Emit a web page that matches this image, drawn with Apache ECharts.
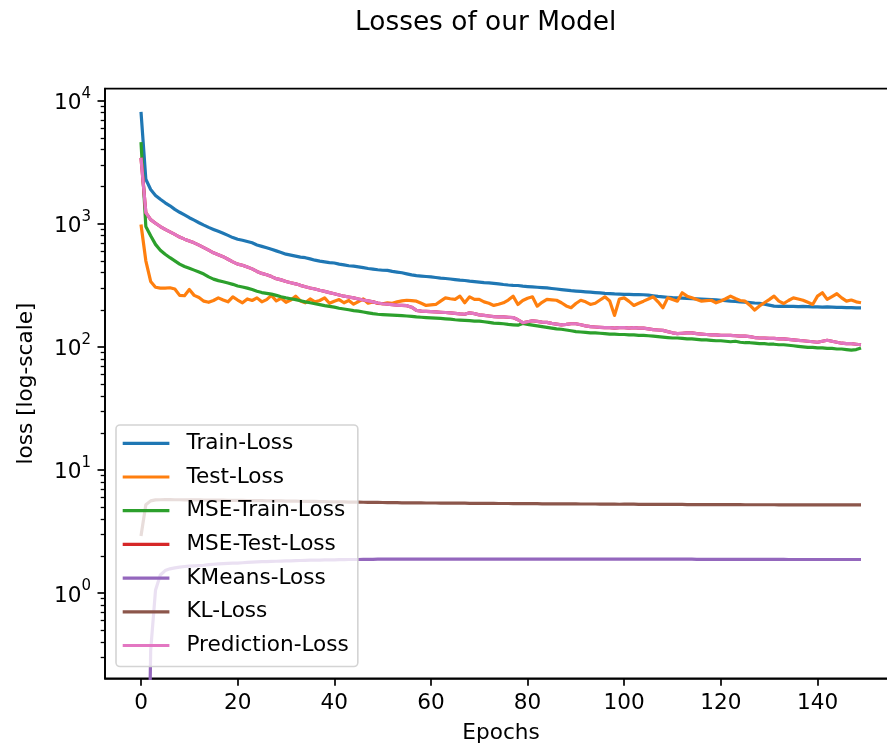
<!DOCTYPE html>
<html>
<head>
<meta charset="utf-8">
<script src="https://cdn.jsdelivr.net/npm/echarts@6/dist/echarts.min.js"></script>
<style>
html,body{margin:0;padding:0;background:#fff;}
#chart{width:887px;height:751px;}
</style>
</head>
<body>
<div id="chart"></div>
<script>
// ---------------- data ----------------
const epochs = Array.from({length: 150}, (_, i) => i);

const trainLoss = [
  8100, 2300, 1900, 1700, 1580, 1480, 1400, 1310, 1240, 1180,
  1120, 1070, 1020, 975, 935, 900, 868, 838, 805, 772,
  748, 735, 718, 700, 672, 655, 638, 620, 602, 585,
  566, 556, 546, 536, 530, 518, 506, 497, 490, 484,
  480, 470, 463, 456, 452, 447, 440, 433, 428, 423,
  419, 418, 410, 405, 400, 392, 384, 379, 376, 373,
  370, 366, 362, 359, 356, 352, 348, 346, 342, 339,
  336, 333, 331, 328, 325, 321, 318, 316, 315, 311,
  309, 307, 305, 303, 301, 298, 295, 292, 289, 286,
  284, 282, 280, 278, 276, 274, 272, 271, 269, 268,
  267, 267, 266, 266, 265, 263, 260, 257, 255, 253,
  251, 250, 249, 248, 246, 245, 244, 243, 242, 241,
  239, 237, 235, 234, 232, 231, 229, 227, 226, 222,
  218, 214, 213, 214, 213, 213, 212, 213, 212, 211,
  211, 210, 211, 210, 209, 209, 208, 208, 207, 207
];

const testLoss = [
  988, 500, 340, 305, 300, 300, 302, 295, 262, 260,
  292, 262, 252, 235, 230, 238, 250, 240, 232, 255,
  240, 228, 245, 238, 250, 232, 242, 262, 236, 248,
  230, 240, 258, 236, 228, 245, 232, 238, 250, 226,
  235, 242, 228, 238, 222, 233, 245, 226, 232, 225,
  224, 228, 226, 232, 236, 239, 237, 235, 226, 217,
  219, 221, 235, 250, 246, 243, 258, 228, 255, 243,
  243, 232, 226, 217, 222, 228, 240, 258, 221, 238,
  248, 255, 214, 230, 243, 241, 239, 228, 215, 208,
  225, 239, 232, 221, 226, 240, 255, 236, 180, 245,
  250, 234, 217, 226, 235, 245, 255, 232, 208, 250,
  242, 235, 275, 258, 250, 242, 235, 237, 239, 228,
  236, 246, 258, 247, 238, 235, 218, 199, 215, 228,
  242, 258, 235, 225, 238, 250, 245, 239, 230, 221,
  258, 275, 243, 256, 270, 250, 235, 240, 232, 228
];

const mseTrainLoss = [
  4600, 950, 800, 680, 610, 565, 530, 500, 470, 450,
  435, 420, 405, 390, 370, 355, 345, 338, 330, 322,
  312, 306, 300, 292, 283, 276, 272, 268, 262, 255,
  250, 246, 242, 237, 232, 228, 224, 220, 216, 213,
  210, 206, 203, 200, 197, 195, 192, 189, 186, 184,
  183, 182, 181, 180, 179, 178, 177, 175, 174, 173,
  172, 171, 170, 169, 168, 166, 165, 164, 163, 162,
  162, 160, 158, 156, 155, 154, 152, 151, 150, 155,
  152, 150, 148, 146, 144, 142, 140, 139, 137, 135,
  133, 132, 131, 130, 130, 129, 128, 127, 127, 126,
  126, 125, 125, 124, 124, 123, 122, 121, 120, 119,
  118, 118, 117, 116, 116, 115, 114, 114, 113, 112,
  112, 111, 110, 111, 109, 108, 108, 107, 106, 106,
  105, 105, 104, 104, 103, 102, 101, 100, 99, 99,
  98, 98, 97, 97, 96, 96, 95, 94, 95, 98
];

const predictionLoss = [
  3440, 1230, 1080, 1010, 950, 900, 860, 820, 780, 750,
  725, 700, 670, 640, 610, 581, 560, 540, 515, 490,
  470, 460, 445, 430, 410, 395, 385, 372, 358, 350,
  340, 332, 325, 316, 308, 301, 295, 288, 282, 276,
  270, 264, 258, 254, 250, 245, 240, 236, 232, 227,
  224, 222, 220, 218, 217, 216, 210, 198, 195, 194,
  193, 192, 191, 190, 189, 187, 185, 184, 189, 186,
  182, 180, 178, 176, 175, 175, 174, 173, 166, 157,
  160, 163, 161, 159, 158, 155, 153, 151, 152, 154,
  154, 151, 148, 146, 145, 144, 143, 143, 142, 143,
  143, 142, 143, 142, 142, 140, 138, 137, 136, 133,
  130, 128, 129, 130, 130, 128, 127, 126, 125, 125,
  124, 124, 124, 123, 122, 122, 121, 119, 118, 118,
  117, 117, 116, 116, 115, 114, 113, 112, 111, 110,
  109, 111, 113, 111, 109, 107, 106, 106, 105, 104
];

// red MSE-Test-Loss is not visible anywhere: it lies exactly under Prediction-Loss
const mseTestLoss = predictionLoss.slice();

const kmeansLoss = [
  0.001, 0.001, 0.34, 1.05, 1.40, 1.52, 1.57, 1.60, 1.62, 1.64,
  1.65, 1.66, 1.67, 1.68, 1.70, 1.71, 1.72, 1.73, 1.74, 1.745,
  1.75, 1.76, 1.77, 1.78, 1.79, 1.795, 1.80, 1.805, 1.81, 1.815,
  1.82, 1.825, 1.83, 1.835, 1.84, 1.845, 1.85, 1.85, 1.855, 1.86,
  1.86, 1.865, 1.865, 1.87, 1.87, 1.87, 1.875, 1.875, 1.875, 1.88,
  1.88, 1.88, 1.88, 1.88, 1.885, 1.885, 1.885, 1.885, 1.885, 1.885,
  1.885, 1.885, 1.885, 1.885, 1.885, 1.885, 1.885, 1.885, 1.885, 1.885,
  1.885, 1.885, 1.885, 1.885, 1.885, 1.885, 1.885, 1.885, 1.885, 1.885,
  1.885, 1.885, 1.885, 1.885, 1.885, 1.885, 1.885, 1.885, 1.885, 1.885,
  1.88, 1.88, 1.88, 1.88, 1.88, 1.88, 1.88, 1.88, 1.88, 1.88,
  1.88, 1.88, 1.88, 1.88, 1.88, 1.88, 1.88, 1.88, 1.88, 1.88,
  1.88, 1.88, 1.88, 1.88, 1.88, 1.875, 1.875, 1.875, 1.875, 1.875,
  1.875, 1.875, 1.875, 1.875, 1.875, 1.875, 1.875, 1.875, 1.875, 1.875,
  1.875, 1.875, 1.875, 1.875, 1.87, 1.87, 1.87, 1.87, 1.87, 1.87,
  1.87, 1.87, 1.87, 1.87, 1.87, 1.87, 1.87, 1.87, 1.87, 1.87
];

const klLoss = [
  2.9, 5.2, 5.6, 5.7, 5.72, 5.73, 5.73, 5.72, 5.72, 5.71,
  5.71, 5.70, 5.70, 5.69, 5.69, 5.68, 5.68, 5.67, 5.66, 5.66,
  5.65, 5.65, 5.64, 5.63, 5.63, 5.62, 5.61, 5.60, 5.60, 5.59,
  5.58, 5.57, 5.57, 5.56, 5.55, 5.54, 5.54, 5.53, 5.52, 5.51,
  5.50, 5.50, 5.49, 5.48, 5.47, 5.47, 5.46, 5.45, 5.45, 5.44,
  5.43, 5.42, 5.42, 5.41, 5.40, 5.40, 5.39, 5.39, 5.39, 5.38,
  5.38, 5.38, 5.37, 5.37, 5.37, 5.36, 5.36, 5.36, 5.35, 5.35,
  5.35, 5.34, 5.34, 5.34, 5.33, 5.33, 5.33, 5.32, 5.32, 5.32,
  5.31, 5.31, 5.31, 5.30, 5.30, 5.30, 5.30, 5.29, 5.29, 5.29,
  5.29, 5.28, 5.28, 5.28, 5.28, 5.27, 5.27, 5.27, 5.27, 5.26,
  5.26, 5.26, 5.26, 5.25, 5.25, 5.25, 5.25, 5.25, 5.24, 5.24,
  5.24, 5.24, 5.24, 5.23, 5.23, 5.23, 5.23, 5.23, 5.23, 5.22,
  5.22, 5.22, 5.22, 5.22, 5.22, 5.21, 5.21, 5.21, 5.21, 5.21,
  5.21, 5.21, 5.20, 5.20, 5.20, 5.20, 5.20, 5.20, 5.20, 5.20,
  5.20, 5.20, 5.20, 5.19, 5.19, 5.19, 5.19, 5.19, 5.19, 5.19
];

const seriesNames = ['Train-Loss', 'Test-Loss', 'MSE-Train-Loss', 'MSE-Test-Loss',
                     'KMeans-Loss', 'KL-Loss', 'Prediction-Loss'];
const seriesValues = [trainLoss, testLoss, mseTrainLoss, mseTestLoss,
                      kmeansLoss, klLoss, predictionLoss];
const seriesColors = ['#1f77b4', '#ff7f0e', '#2ca02c', '#d62728',
                      '#9467bd', '#8c564b', '#e377c2'];

const xTicks = [0, 20, 40, 60, 80, 100, 120, 140];
const yMajorTicks = [1, 10, 100, 1000, 10000];
const yMinorTicks = [0.3, 0.4, 0.5, 0.6, 0.7, 0.8, 0.9,
  2, 3, 4, 5, 6, 7, 8, 9, 20, 30, 40, 50, 60, 70, 80, 90,
  200, 300, 400, 500, 600, 700, 800, 900, 2000, 3000, 4000, 5000, 6000, 7000, 8000, 9000];

// ---------------- chart ----------------
const FONT = 'DejaVu Sans';
const FS = 21.6;
const X_MIN = -7.45, X_MAX = 156.45;
const Y_MIN = 0.2025, Y_MAX = 12520;

const chart = echarts.init(document.getElementById('chart'), null, {renderer: 'canvas'});

const series = seriesNames.map((name, k) => ({
  name: name,
  type: 'line',
  data: epochs.map((e, i) => [e, seriesValues[k][i]]),
  showSymbol: false,
  symbol: 'none',
  clip: true,
  color: seriesColors[k],
  lineStyle: {width: 3.2, color: seriesColors[k], join: 'round', cap: 'butt'},
  emphasis: {disabled: true},
  animation: false
}));

const option = {
  animation: false,
  backgroundColor: '#ffffff',
  title: {
    text: 'Losses of our Model',
    left: 355,
    top: 10,
    padding: 0,
    textStyle: {fontFamily: FONT, fontSize: 26.4, fontWeight: 'normal', color: '#000'}
  },
  grid: {
    left: 105, top: 88.7, width: 792, height: 589.6,
    containLabel: false,
    outerBoundsMode: 'none',
    show: true, borderColor: '#000', borderWidth: 1.7, backgroundColor: 'transparent'
  },
  legend: {
    orient: 'vertical',
    left: 116, top: 425,
    padding: [7.3, 9, 10, 6.7],
    itemGap: 11.7,
    itemWidth: 46.7,
    itemHeight: 3.2,
    icon: 'rect',
    backgroundColor: 'rgba(255,255,255,0.8)',
    borderColor: '#d4d4d4',
    borderWidth: 1.6,
    borderRadius: 4,
    data: seriesNames,
    textStyle: {fontFamily: FONT, fontSize: FS, color: '#000', lineHeight: 22, padding: [0, 0, 0, 12]},
    selectedMode: false
  },
  xAxis: {
    type: 'value',
    min: X_MIN, max: X_MAX,
    name: 'Epochs',
    nameLocation: 'middle',
    nameGap: 44,
    nameTextStyle: {fontFamily: FONT, fontSize: FS, color: '#000'},
    axisLine: {show: true, onZero: false, lineStyle: {color: '#000', width: 1.7}},
    axisTick: {show: true, length: 7.5, lineStyle: {color: '#000', width: 1.7}, customValues: xTicks},
    axisLabel: {show: true, margin: 14, fontFamily: FONT, fontSize: FS, color: '#000', customValues: xTicks,
                formatter: v => String(v)},
    splitLine: {show: false}
  },
  yAxis: [
    {
      type: 'log',
      logBase: 10,
      min: Y_MIN, max: Y_MAX,
      position: 'left',
      name: 'loss [log-scale]',
      nameLocation: 'middle',
      nameGap: 68,
      nameRotate: 90,
      nameTextStyle: {fontFamily: FONT, fontSize: FS, color: '#000'},
      axisLine: {show: true, onZero: false, lineStyle: {color: '#000', width: 1.7}},
      axisTick: {show: true, length: 7.5, lineStyle: {color: '#000', width: 1.7}, customValues: yMajorTicks},
      axisLabel: {
        show: true, margin: 14, color: '#000', customValues: yMajorTicks,
        formatter: v => '{b|10}{s|' + Math.round(Math.log10(v)) + '}',
        rich: {
          b: {fontFamily: FONT, fontSize: FS, color: '#000', lineHeight: 28, verticalAlign: 'bottom'},
          s: {fontFamily: FONT, fontSize: 15, color: '#000', lineHeight: 14, verticalAlign: 'top'}
        }
      },
      splitLine: {show: false},
      minorTick: {show: false}
    },
    {
      type: 'log',
      logBase: 10,
      min: Y_MIN, max: Y_MAX,
      position: 'left',
      axisLine: {show: false, onZero: false},
      axisTick: {show: true, length: 4.3, lineStyle: {color: '#000', width: 1.3}, customValues: yMinorTicks},
      axisLabel: {show: false},
      splitLine: {show: false}
    }
  ],
  series: series
};

chart.setOption(option);
</script>
</body>
</html>
